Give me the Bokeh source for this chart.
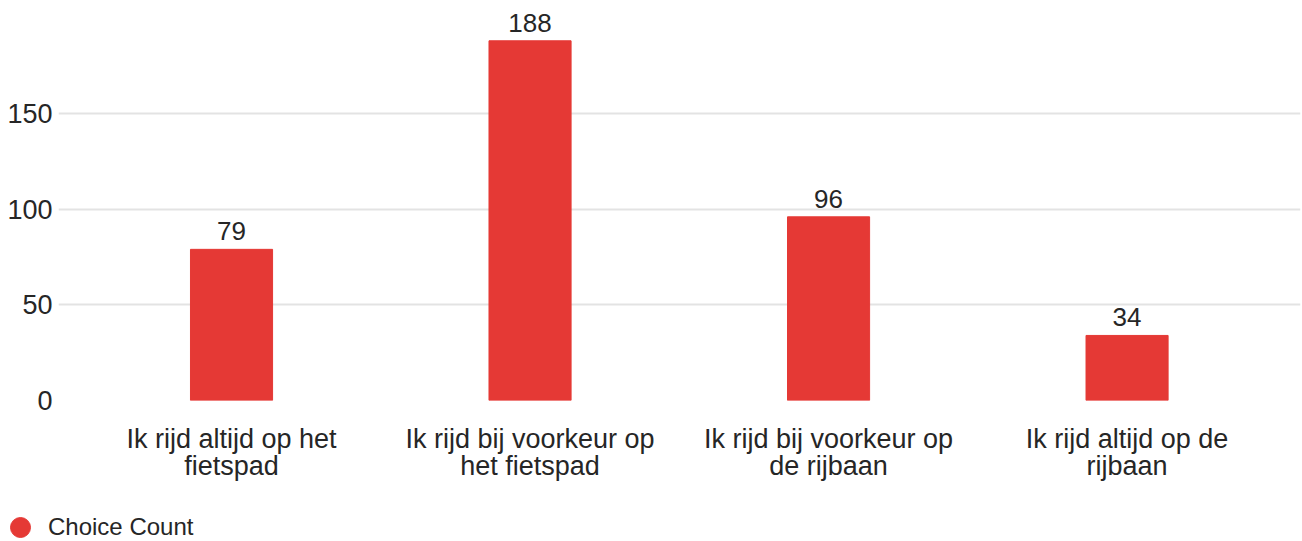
from bokeh.plotting import figure
from bokeh.layouts import column
from bokeh.models import ColumnDataSource, FixedTicker, Range1d, Legend, LegendItem
from bokeh.core.properties import value
from bokeh.embed import file_html
from bokeh.resources import INLINE

categories = ["Ik rijd altijd op het\nfietspad", "Ik rijd bij voorkeur op\nhet fietspad",
              "Ik rijd bij voorkeur op\nde rijbaan", "Ik rijd altijd op de\nrijbaan"]
counts = [79, 188, 96, 34]
y_ticks = [0, 50, 100, 150]
series_name = "Choice Count"

BAR = "#e53935"
TXT = "#262626"
FONT = "Liberation Sans"

xs = list(range(len(categories)))
src = ColumnDataSource(dict(x=xs, y=counts, lab=[str(c) for c in counts]))

p = figure(width=1302, height=490, output_backend="svg", toolbar_location=None,
           x_range=Range1d(-0.5796, 3.581), y_range=Range1d(0, 209.06),
           min_border_left=58, min_border_right=2, min_border_top=0, min_border_bottom=90)
p.outline_line_color = None
p.background_fill_color = "white"

bars = p.vbar(x="x", top="y", width=0.275, source=src, color=BAR)
p.text(x="x", y="y", text="lab", source=src, text_align="center", text_baseline="bottom",
       y_offset=-9, text_font=value(FONT), text_font_size="26px", text_color=TXT)

p.xaxis.ticker = FixedTicker(ticks=xs)
p.xaxis.major_label_overrides = {i: c for i, c in zip(xs, categories)}
p.xaxis.axis_line_color = None
p.xaxis.major_tick_line_color = None
p.xaxis.minor_tick_line_color = None
p.xaxis.major_tick_out = 0
p.xaxis.major_label_standoff = 23
p.xaxis.major_label_text_font = FONT
p.xaxis.major_label_text_font_size = "27px"
p.xaxis.major_label_text_color = TXT
p.xaxis.major_label_text_line_height = 0.92

p.yaxis.ticker = FixedTicker(ticks=y_ticks)
p.yaxis.axis_line_color = None
p.yaxis.major_tick_line_color = None
p.yaxis.minor_tick_line_color = None
p.yaxis.major_tick_out = 0
p.yaxis.major_label_standoff = 6
p.yaxis.major_label_text_font = FONT
p.yaxis.major_label_text_font_size = "27px"
p.yaxis.major_label_text_color = TXT

p.xgrid.grid_line_color = None
p.ygrid.grid_line_color = "#e3e3e3"
p.ygrid.grid_line_width = 2

# legend strip below the chart
lg = figure(width=1302, height=51, output_backend="svg", toolbar_location=None,
            x_range=Range1d(0, 1), y_range=Range1d(0, 1),
            x_axis_location=None, y_axis_location=None,
            min_border_left=0, min_border_right=0, min_border_top=0, min_border_bottom=0)
lg.outline_line_color = None
lg.background_fill_color = "white"
lg.border_fill_color = "white"
lg.xgrid.grid_line_color = None
lg.ygrid.grid_line_color = None
dummy = lg.scatter(x=[0.5], y=[0.5], size=0, marker="circle", color=BAR)
legend = Legend(items=[LegendItem(label=series_name, renderers=[dummy])],
                location=(-5, -11), orientation="horizontal",
                glyph_width=50, glyph_height=50, label_standoff=3, padding=0, margin=0,
                border_line_color=None, background_fill_alpha=0,
                label_text_font=FONT, label_text_font_size="24px", label_text_color=TXT)
lg.add_layout(legend, "center")

layout = column(p, column(lg), spacing=0)
open("out.html", "w").write(file_html(layout, INLINE))
